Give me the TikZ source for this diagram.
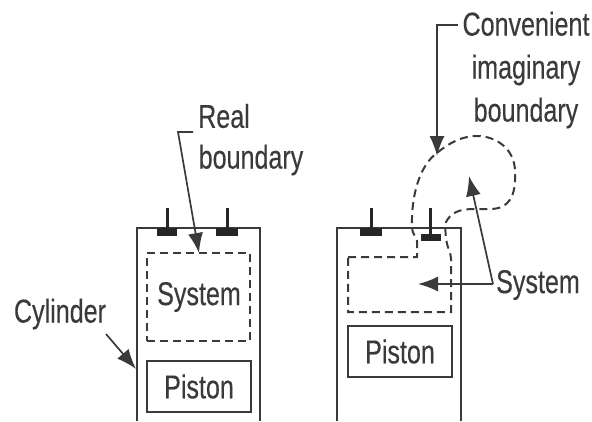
\documentclass[tikz,border=0pt]{standalone}
\usepackage{fontspec}
\newfontfamily\labelfont[FakeBold=0.35]{Liberation Sans}
\usetikzlibrary{arrows.meta,calc}
\definecolor{ink}{HTML}{3A3A3A}
\tikzset{
  wall/.style={draw=ink,line width=2.1pt},
  pistonbox/.style={draw=ink,line width=2.1pt,rectangle,minimum width=104pt,minimum height=51pt,inner sep=0pt},
  dashline/.style={draw=ink,line width=2pt,dash pattern=on 8pt off 5pt},
  txt/.style={text=ink,inner sep=0pt,align=center,font=\labelfont\fontsize{33}{43}\selectfont,xscale=.76},
  lead/.style={draw=ink,line width=1.7pt,-{Latex[length=20pt,width=15pt]}},
  stem/.style={draw=black!85,line width=3pt},
  flange/.style={fill=black!85,draw=none},
}
\begin{document}
\begin{tikzpicture}[x=1pt,y=-1pt]
\useasboundingbox (0,0) rectangle (592,421);
% left cylinder
\draw[wall] (137,421) -- (137,228) -- (260,228) -- (260,421);
\draw[stem] (167,208) -- (167,229);
\fill[flange] (157,228) rectangle (177,236);
\draw[stem] (227,208) -- (227,229);
\fill[flange] (216,228) rectangle (238,236);
\node[dashline,minimum width=103pt,minimum height=88pt,inner sep=0pt] (sysL) at (198.5,297) {};
\node[txt] (systemL) at (199,297) {System};
\node[pistonbox] (pistonL) at (199,386.5) {};
\node[txt] (pistonLt) at (pistonL.center) {Piston};
% right cylinder
\draw[wall] (337,421) -- (337,228) -- (461,228) -- (461,421);
\draw[stem] (371,208) -- (371,229);
\fill[flange] (360,228) rectangle (382,236);
\draw[stem] (430,208) -- (430,234);
\fill[flange] (421,234) rectangle (441,241);
\node[pistonbox] (pistonR) at (400,351.5) {};
\node[txt] (pistonRt) at (pistonR.center) {Piston};
% imaginary boundary
\draw[dashline] (348,257) -- (417,257) -- (417,241) .. controls (416,236) and (412,234) .. (412,227)
  .. controls (411,195) and (420,165) .. (437,153)
  .. controls (450,142) and (463,136) .. (477,136)
  .. controls (495,136) and (515,148) .. (515,172)
  .. controls (516,195) and (510,209) .. (490,209)
  .. controls (475,210) and (455,205) .. (446,222)
  .. controls (445,228) and (445,240) .. (449,250)
  .. controls (452,258) and (451,262) .. (451,268)
  -- (451,312) -- (348,312) -- cycle;
% labels
\node[txt] (real) at (224,116) {Real};
\node[txt] (boundary) at (251,160) {boundary};
\node[txt] (cyl) at (60,314) {Cylinder};
\node[txt] (conv) at (526,70) {Convenient\\imaginary\\boundary};
\node[txt] (sysR) at (538,285) {System};
% leaders
\coordinate (realTip) at (199,253);
\coordinate (realBend) at (178,132);
\coordinate (realStart) at (193,132);
\draw[lead] (realStart) -- (realBend) -- (realTip);
\coordinate (cylStart) at (106,334);
\coordinate (cylTip) at (136,369);
\draw[lead] (cylStart) -- (cylTip);
\coordinate (convStart) at (458,25);
\coordinate (convBend) at (437,25);
\coordinate (convTip) at (437,156);
\draw[lead] (convStart) -- (convBend) -- (convTip);
\coordinate (sysJoin) at (493,284);
\coordinate (sysTipA) at (418,284);
\coordinate (sysTipB) at (469,176);
\draw[lead] (sysJoin) -- (sysTipA);
\draw[lead] (sysJoin) -- (sysTipB);
\end{tikzpicture}
\end{document}
